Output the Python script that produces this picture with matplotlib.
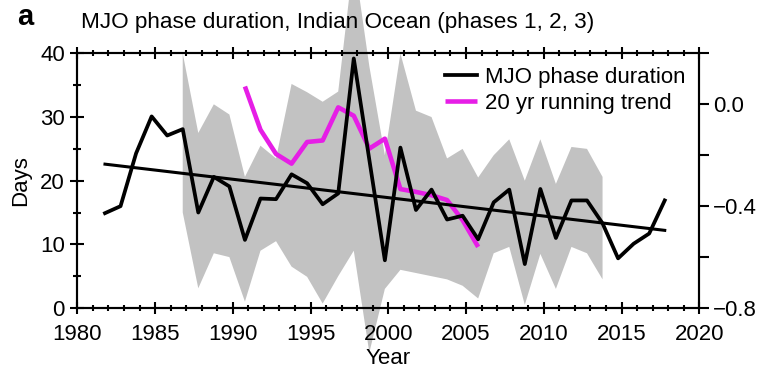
import numpy as np
import matplotlib
matplotlib.use('Agg')
import matplotlib.pyplot as plt
from matplotlib.ticker import MultipleLocator

plt.rcParams['font.family'] = ['Liberation Sans', 'DejaVu Sans']
plt.rcParams['font.size'] = 16

# MJO phase duration (days), one value per year
years = np.arange(1982, 2019)
days = [14.9, 16.0, 24.3, 30.1, 27.1, 28.1, 15.0, 20.6, 19.1, 10.7,
        17.2, 17.1, 21.0, 19.6, 16.3, 18.0, 39.2, 23.3, 7.5, 25.2,
        15.4, 18.6, 13.9, 14.5, 10.8, 16.6, 18.6, 6.9, 18.7, 11.0,
        16.9, 16.9, 13.3, 7.8, 10.1, 11.7, 16.9]

# linear trend end points
trend_years = [1982, 2018]
trend_days = [22.6, 12.2]

# grey spread band
band_years = np.arange(1987, 2015)
band_upper = [40, 27.5, 32, 30.4, 20.6, 25.5, 23.5, 35.2, 33.9, 32.4,
              34, 55, 38, 24, 40, 31, 30, 23.5, 25, 20.5,
              24, 26.5, 20, 26.5, 19.5, 25.3, 25, 20.6]
band_lower = [15, 3.1, 8.6, 8.0, 1.0, 9.0, 10.5, 6.5, 4.9, 0.7,
              5, 9, -7, 3, 6, 5.5, 5, 4.5, 3.5, 1.5,
              8.6, 9.6, 0.5, 8.5, 3, 9.6, 8.6, 4.5]

# 20 yr running trend (right axis)
run_years = np.arange(1991, 2007)
run_trend = [0.07, -0.10, -0.195, -0.233, -0.148, -0.142, -0.012, -0.045,
             -0.174, -0.135, -0.333, -0.344, -0.357, -0.376, -0.455, -0.56]

# values sit a little before the year tick in the original figure
x_shift = -0.22

fig = plt.figure(figsize=(7.58, 3.72), dpi=100)
ax = fig.add_axes([0.102, 0.172, 0.8205, 0.6845])
ax2 = ax.twinx()

ax.fill_between(band_years + x_shift, band_lower, band_upper, color='#c2c2c2',
                linewidth=0, zorder=1, clip_on=False)

ax2.plot(run_years + x_shift, run_trend, color='#e61ee6', lw=3.3, zorder=2,
         label='20 yr running trend', solid_capstyle='butt')
ax2.plot(years + x_shift, days, color='black', lw=2.7, transform=ax.transData,
         zorder=3, label='MJO phase duration')
ax2.plot(np.array(trend_years) + x_shift, trend_days, color='black', lw=2.2,
         transform=ax.transData, zorder=3)

ax.set_xlim(1980, 2020)
ax.set_ylim(0, 40)
ax2.set_ylim(-0.8, 0.2)

ax.xaxis.set_major_locator(MultipleLocator(5))
ax.xaxis.set_minor_locator(MultipleLocator(1))
ax.yaxis.set_major_locator(MultipleLocator(10))
ax.yaxis.set_minor_locator(MultipleLocator(5))
ax2.yaxis.set_major_locator(MultipleLocator(0.4))
ax2.yaxis.set_minor_locator(MultipleLocator(0.2))
ax2.yaxis.set_major_formatter(plt.FuncFormatter(
    lambda v, p: ('%.1f' % v).replace('-', '\u2212')))

ax.tick_params(axis='x', which='both', top=True, bottom=True,
               direction='inout', width=1.5, pad=7)
ax.tick_params(axis='x', which='major', length=9)
ax.tick_params(axis='x', which='minor', length=5)
ax.tick_params(axis='y', which='both', direction='inout', width=1.5, pad=4)
ax.tick_params(axis='y', which='major', length=10)
ax.tick_params(axis='y', which='minor', length=6)
ax2.tick_params(axis='y', which='both', direction='out', width=1.5,
                length=7, pad=3)

for a in (ax, ax2):
    for s in a.spines.values():
        s.set_linewidth(1.5)

ax.set_xlabel('Year', labelpad=2)
ax.set_ylabel('Days', labelpad=6)

h1, l1 = ax2.get_legend_handles_labels()
ax2.legend(h1[::-1], l1[::-1], loc='upper right', bbox_to_anchor=(1.0, 1.0),
           frameon=False, handlelength=1.4, handletextpad=0.4,
           labelspacing=0.25, borderaxespad=0.2)

fig.text(0.107, 1 - 28 / 372, 'MJO phase duration, Indian Ocean (phases 1, 2, 3)',
         va='baseline', ha='left', fontsize=16.2)
fig.text(0.022, 1 - 25 / 372, 'a', fontweight='bold', fontsize=21,
         va='baseline', ha='left')

fig.savefig('out.png', dpi=100)
